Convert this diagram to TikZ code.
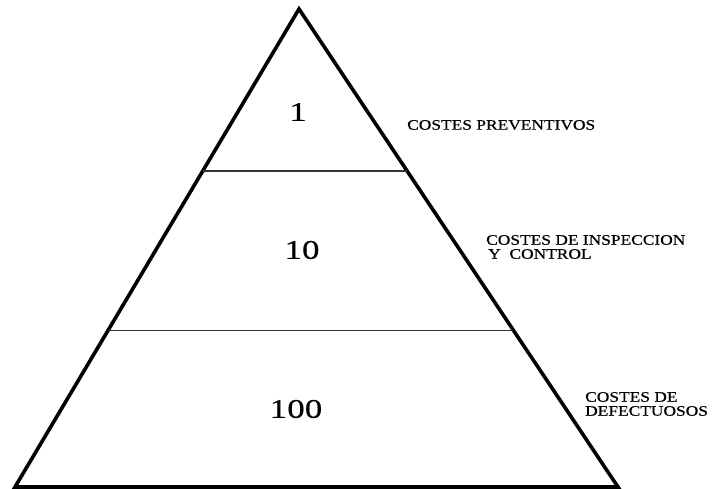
\documentclass[tikz,border=0pt]{standalone}
\usepackage{fontspec}
\setmainfont{Liberation Serif}
\newfontfamily\labelfont[FakeStretch=1.2, FakeBold=0.6]{Liberation Serif}
\newfontfamily\numfont[FakeStretch=1.3, FakeBold=0.5]{Liberation Serif}
\usepackage{tikz}
\usetikzlibrary{calc, positioning}

\begin{document}
\begin{tikzpicture}[
    x=1pt, y=-1pt,
    edge/.style={draw=black, line width=3.6pt, line join=miter},
    divider/.style={draw=black!80, line width=1.3pt},
    level/.style={font=\numfont\fontsize{27}{27}\selectfont, inner sep=0pt},
    cost/.style={font=\labelfont\fontsize{14.5}{14}\selectfont, align=left, anchor=west, inner sep=0pt}
]
\useasboundingbox (0,0) rectangle (714,489);

% Triangle
\coordinate (apex) at (299,9);
\coordinate (base_left) at (15,487);
\coordinate (base_right) at (618,487);
\draw[edge] (base_left) -- (apex) -- (base_right) -- cycle;

% Dividers
\coordinate (upper_left) at ($(apex)!0.339!(base_left)$);
\coordinate (upper_right) at ($(apex)!0.339!(base_right)$);
\coordinate (lower_left) at ($(apex)!0.672!(base_left)$);
\coordinate (lower_right) at ($(apex)!0.672!(base_right)$);
\draw[divider] (upper_left) -- (upper_right);
\draw[divider] (lower_left) -- (lower_right);

% Levels
\node[level] (prev_num) at (298,112) {1};
\node[level] (insp_num) at (302,250) {10};
\node[level] (defect_num) at (296,409) {100};

% Labels
\node[cost] (prev_label) at (407,125) {COSTES PREVENTIVOS};
\node[cost] (insp_label) at (486,247) {COSTES DE INSPECCION\\\hspace{2pt}Y\ \ CONTROL};
\node[cost] (defect_label) at (585,404) {COSTES DE\\DEFECTUOSOS};

\end{tikzpicture}
\end{document}
